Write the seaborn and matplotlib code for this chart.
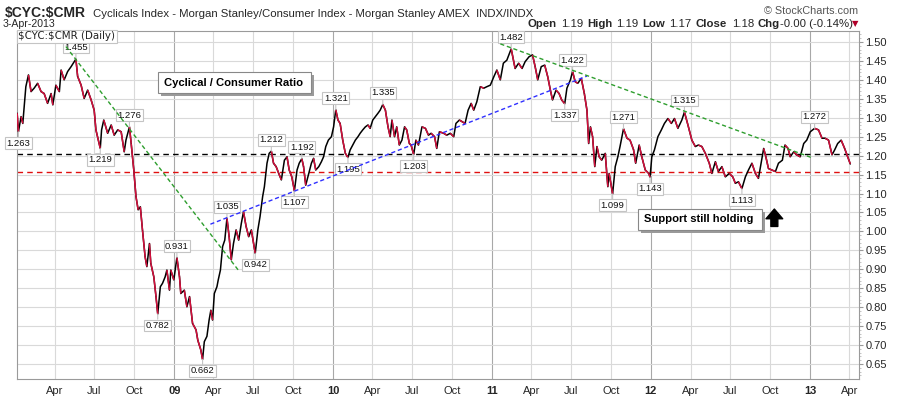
import numpy as np
import pandas as pd
import seaborn as sns
import matplotlib.pyplot as plt
import matplotlib.dates as mdates
import matplotlib.patheffects as pe
from matplotlib.collections import LineCollection

# =========================
# DATA
# =========================
# calendar days after 1 Jan 2009, and the $CYC:$CMR close
day = [-361, -358, -352, -348, -341, -335, -329, -322, -314, -306, -299, -291, -283, -279,
       -272, -264, -260, -253, -245, -237, -226, -222, -214, -207, -199, -191, -184, -180,
       -170, -167, -162, -153, -145, -138, -130, -122, -115, -111, -103, -99, -93, -88,
       -83, -78, -73, -67, -63, -57, -54, -47, -42, -38, -32, -27, -21, -17, -11, -8, -1,
       6, 12, 15, 23, 29, 35, 42, 50, 54, 61, 65, 69, 75, 80, 84, 88, 92, 98, 101, 106,
       111, 116,
       121, 126, 131, 136, 142, 148, 154, 159, 165, 171, 177, 186, 192, 197, 203, 207,
       213, 218, 223, 228, 234, 240, 246, 253, 259, 264, 270, 276, 282, 287, 293, 297,
       302, 309, 315, 320, 325, 332, 338, 343, 348, 354, 361, 366, 371, 376, 381, 387,
       393, 399, 404, 410, 416, 422, 427, 433, 439, 445, 450, 456, 462, 468, 473, 479,
       485, 491, 496, 500, 506, 511, 517, 523, 529, 534, 540, 544, 550, 555, 561, 569,
       577, 584, 590, 598, 603, 609,
       619, 626, 634, 642, 647, 655, 662, 668, 675, 682, 688, 695, 703, 711, 718, 726,
       734, 741, 749, 756, 764, 774, 783, 791, 799, 806, 815, 823, 829, 835, 843, 851,
       858, 864, 869, 877, 884, 890, 897, 902, 910, 915, 921, 927, 935, 942, 948, 952,
       956, 961, 966, 971, 976, 982, 990, 996, 999, 1007, 1013, 1019, 1024, 1032, 1040,
       1047, 1055, 1060, 1068, 1074, 1082,
       1090, 1093, 1097, 1103, 1111, 1119, 1126, 1134, 1142, 1149, 1157, 1166, 1172,
       1180, 1189, 1197, 1204, 1212, 1220, 1229, 1235, 1243, 1250, 1258, 1266, 1275,
       1283, 1289, 1296, 1304, 1312, 1319, 1327, 1335, 1342, 1348, 1354, 1359, 1365,
       1373, 1381, 1388, 1397, 1403, 1410, 1415, 1423, 1430, 1438, 1446, 1453, 1461,
       1471, 1480, 1488, 1495, 1503, 1511, 1517, 1524, 1532, 1540, 1553]
ratio = [1.312, 1.263, 1.303, 1.285, 1.382, 1.413, 1.369, 1.378, 1.391, 1.369, 1.364, 1.338,
         1.364, 1.334, 1.386, 1.369, 1.426, 1.400, 1.422, 1.435, 1.455, 1.409, 1.386, 1.351,
         1.373, 1.347, 1.320, 1.268, 1.219, 1.268, 1.294, 1.259, 1.281, 1.254, 1.268, 1.263,
         1.210, 1.241, 1.276, 1.232, 1.162, 1.092, 1.057, 1.065, 1.003, 0.933, 0.907, 0.968,
         0.916, 0.880, 0.828, 0.782, 0.854, 0.863, 0.880, 0.898, 0.845, 0.898, 0.872, 0.931,
         0.880, 0.836, 0.845, 0.801, 0.828, 0.757, 0.740, 0.713, 0.687, 0.662, 0.709, 0.723,
         0.766, 0.792, 0.766, 0.836, 0.854, 0.872, 0.898, 0.960, 0.977,
         1.035, 0.986, 0.925, 0.968, 1.004, 0.977, 1.021, 1.052, 1.013, 0.986, 1.004, 0.942,
         1.004, 1.039, 1.092, 1.118, 1.180, 1.206, 1.212, 1.180, 1.171, 1.153, 1.136, 1.188,
         1.197, 1.162, 1.144, 1.107, 1.162, 1.180, 1.192, 1.171, 1.122, 1.153, 1.180, 1.193,
         1.162, 1.171, 1.184, 1.197, 1.224, 1.241, 1.250, 1.276, 1.321, 1.294, 1.285, 1.241,
         1.206, 1.195, 1.215, 1.228, 1.241, 1.250, 1.259, 1.268, 1.276, 1.281, 1.272, 1.294,
         1.303, 1.312, 1.320, 1.335, 1.320, 1.276, 1.250, 1.294, 1.250, 1.276, 1.228, 1.241,
         1.276, 1.268, 1.232, 1.228, 1.203, 1.241, 1.228, 1.276, 1.272, 1.254, 1.259, 1.250,
         1.219, 1.263,
         1.259, 1.254, 1.259, 1.250, 1.285, 1.294, 1.289, 1.285, 1.320, 1.338, 1.320, 1.342,
         1.382, 1.378, 1.382, 1.386, 1.408, 1.426, 1.400, 1.444, 1.452, 1.482, 1.430, 1.444,
         1.430, 1.448, 1.461, 1.466, 1.435, 1.400, 1.435, 1.439, 1.408, 1.373, 1.347, 1.373,
         1.364, 1.347, 1.337, 1.378, 1.400, 1.422, 1.395, 1.391, 1.404, 1.364, 1.320, 1.232,
         1.276, 1.250, 1.171, 1.224, 1.197, 1.188, 1.206, 1.118, 1.153, 1.099, 1.171, 1.197,
         1.224, 1.271, 1.246, 1.241, 1.216, 1.180, 1.228, 1.197, 1.162,
         1.153, 1.143, 1.197, 1.215, 1.250, 1.268, 1.285, 1.298, 1.285, 1.298, 1.272, 1.294,
         1.315, 1.281, 1.241, 1.224, 1.228, 1.224, 1.206, 1.180, 1.153, 1.184, 1.158, 1.171,
         1.144, 1.153, 1.144, 1.127, 1.131, 1.113, 1.144, 1.162, 1.180, 1.153, 1.140, 1.180,
         1.219, 1.197, 1.166, 1.162, 1.158, 1.180, 1.188, 1.228, 1.219, 1.197, 1.210, 1.202,
         1.197, 1.232, 1.241, 1.263, 1.272, 1.268, 1.246, 1.246, 1.241, 1.202, 1.215, 1.232,
         1.241, 1.219, 1.178]

# labelled swing highs / lows
peak_day = [-358, -226, -170, -103, -38, 6, 65, 121, 186, 223, 293, 276, 371, 399, 479,
            550, 774, 915, 897, 1032, 1007, 1093, 1172, 1304, 1471]
peak_val = [1.263, 1.455, 1.219, 1.276, 0.782, 0.931, 0.662, 1.035, 0.942, 1.212, 1.192,
            1.107, 1.321, 1.195, 1.335, 1.203, 1.482, 1.422, 1.337, 1.271, 1.099, 1.143,
            1.315, 1.113, 1.272]
peak_side = ["dn", "up", "dn", "up", "dn", "up", "dn", "up", "dn", "up", "up",
             "dn", "up", "dn", "up", "dn", "up", "up", "dn", "up", "dn", "dn",
             "up", "dn", "up"]

# hand-drawn trend lines: (start day, start value, end day, end value)
trend_green_1 = (-249, 1.488, 149, 0.895)
trend_blue = (83, 1.019, 948, 1.410)
trend_green_2 = (749, 1.495, 1466, 1.194)

resistance = 1.2035
support = 1.158

yticks = np.round(np.arange(0.65, 1.501, 0.05), 2)

base = pd.Timestamp("2009-01-01")
df = pd.DataFrame({"date": base + pd.to_timedelta(day, unit="D"), "ratio": ratio})

# =========================
# PLOT
# =========================
sns.set_style("white")
plt.rcParams["font.family"] = ["Liberation Sans", "DejaVu Sans"]

fig = plt.figure(figsize=(9, 3.96), dpi=100)
ax = fig.add_axes([16.7 / 900, 17 / 396, (859 - 16.7) / 900, (379 - 30.7) / 396])

quarters = pd.date_range("2008-04-01", "2013-04-01", freq="QS")
for q in quarters:
    ax.axvline(q, color="#a8a8a8" if q.month == 1 else "#d9d9d9", lw=0.8, zorder=0)
for y in yticks:
    ax.axhline(y, color="#d9d9d9", lw=0.8, zorder=0)

sns.lineplot(data=df, x="date", y="ratio", color="black", lw=1.1, ax=ax,
             estimator=None, zorder=3)
xs = mdates.date2num(df["date"])
pts = np.column_stack([xs, df["ratio"].values])
segs = np.stack([pts[:-1], pts[1:]], axis=1)
down = np.diff(df["ratio"].values) < 0
ax.add_collection(LineCollection(segs[down], colors="#d40f3c", linewidths=1.1, zorder=4))

ax.axhline(resistance, color="black", ls=(0, (4, 3)), lw=1.0, zorder=2)
ax.axhline(support, color="#e01010", ls=(0, (4, 3)), lw=1.0, zorder=2)

for (d0, v0, d1, v1), col in [(trend_green_1, "#2e9e2e"), (trend_blue, "#3030ff"),
                              (trend_green_2, "#2e9e2e")]:
    ax.plot([base + pd.Timedelta(days=d0), base + pd.Timedelta(days=d1)], [v0, v1],
            color=col, ls=(0, (3, 2)), lw=1.0, zorder=6)

for d, v, side in zip(peak_day, peak_val, peak_side):
    off = 7 if side == "up" else -7
    ax.annotate(f"{v:.3f}", xy=(base + pd.Timedelta(days=d), v), xytext=(0, off),
                textcoords="offset pixels", ha="center",
                va="bottom" if side == "up" else "top", fontsize=6.8, color="#111111",
                bbox=dict(boxstyle="square,pad=0.15", fc="white", ec="#c4c4c4", lw=0.8),
                arrowprops=dict(arrowstyle="-", color="#c4c4c4", lw=0.8,
                                shrinkA=0, shrinkB=0),
                zorder=5, annotation_clip=False)

# text boxes with drop shadow
for tx, ty, s in [(0.1745, 0.851, "Cyclical / Consumer Ratio "),
                  (0.7445, 0.458, "Support still holding ")]:
    t = ax.text(tx, ty, s, transform=ax.transAxes, fontsize=8.1, fontweight="bold",
                va="center", color="black",
                bbox=dict(boxstyle="square,pad=0.5", fc="white", ec="#888888", lw=0.8),
                zorder=8)
    t.get_bbox_patch().set_path_effects(
        [pe.SimplePatchShadow(offset=(2, -2), shadow_rgbFace="#9a9a9a", alpha=1),
         pe.Normal()])
ax.annotate("", xy=(0.8995, 0.488), xytext=(0.8995, 0.438), xycoords="axes fraction",
            arrowprops=dict(width=5, headwidth=12, headlength=7, fc="black", ec="black"),
            zorder=8)

ax.text(0.002, 0.998, "\\$CYC:\\$CMR (Daily)", transform=ax.transAxes, fontsize=7.4,
        family="DejaVu Sans", va="top", ha="left", color="#222222",
        bbox=dict(boxstyle="square,pad=0.15", fc="white", ec="#c4c4c4", lw=0.8), zorder=9)

# axes
ax.set_xlim(base + pd.Timedelta(days=-362), base + pd.Timedelta(days=1573))
ax.set_ylim(0.6104, 1.5298)
ax.set_xlabel("")
ax.set_ylabel("")

ax.set_xticks(quarters)
ax.set_xticklabels([q.strftime("%y") if q.month == 1 else q.strftime("%b") for q in quarters],
                   fontsize=8)
for lab, q in zip(ax.get_xticklabels(), quarters):
    if q.month == 1:
        lab.set_fontweight("bold")
ax.tick_params(axis="x", length=2, pad=3, color="#999999")

ax.yaxis.tick_right()
ax.set_yticks(yticks)
ax.set_yticklabels([f"{y:.2f}" for y in yticks], fontsize=8)
ax.set_yticks(np.arange(0.62, 1.53, 0.01), minor=True)
ax.tick_params(axis="y", which="major", length=3, pad=1.5, color="#999999")
ax.tick_params(axis="y", which="minor", length=1.5, color="#bbbbbb", right=True)

for sp in ax.spines.values():
    sp.set_color("#9a9a9a")
    sp.set_linewidth(0.8)

# header
fig.text(5 / 900, 1 - 17 / 396, "\\$CYC:\\$CMR", fontsize=10, fontweight="bold",
         va="baseline")
fig.text(93 / 900, 1 - 17 / 396,
         "Cyclicals Index - Morgan Stanley/Consumer Index - Morgan Stanley AMEX  INDX/INDX",
         fontsize=8.2, va="baseline")
fig.text(3 / 900, 1 - 27 / 396, "3-Apr-2013", fontsize=7.6, va="baseline")
fig.text(858 / 900, 1 - 14 / 396, "© StockCharts.com", fontsize=7.8, va="baseline",
         ha="right", color="#555555")

quote = [(528, "Open", True), (561, "1.19", False), (587, "High", True), (616, "1.19", False),
         (642, "Low", True), (669, "1.17", False), (696, "Close", True), (732, "1.18", False),
         (757, "Chg", True), (780, "-0.00 (-0.14%)", False)]
for px, s, bold in quote:
    fig.text(px / 900, 1 - 27 / 396, s, fontsize=8.2, va="baseline",
             fontweight="bold" if bold else "normal")
fig.text(855 / 900, 1 - 26 / 396, "▼", fontsize=6, va="baseline", ha="center",
         color="#b0002a", family=["DejaVu Sans"])

plt.savefig("out.png", dpi=100)
